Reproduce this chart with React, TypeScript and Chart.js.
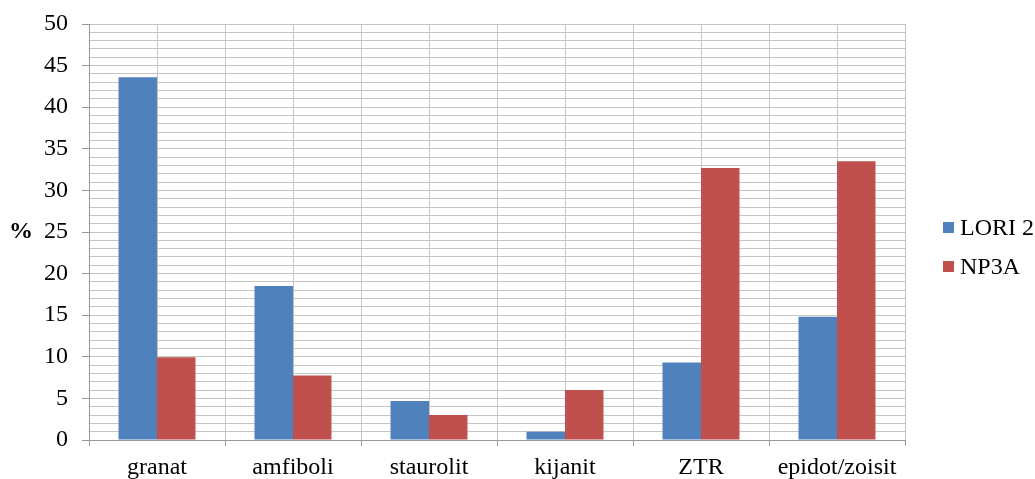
import React, { useEffect, useRef } from "react";
import { Chart, registerables } from "chart.js";

Chart.register(...registerables);

const categories = ["granat", "amfiboli", "staurolit", "kijanit", "ZTR", "epidot/zoisit"];
const lori2 = [43.6, 18.5, 4.7, 1.0, 9.3, 14.8];
const np3a = [9.95, 7.75, 3.0, 6.0, 32.7, 33.5];
const seriesNames = ["LORI 2", "NP3A"];
const seriesColors = ["#4F81BD", "#C0504D"];
const yTitle = "%";
const halfSteps = ["0", "1", "2", "3", "4", "5", "6", "7", "8", "9", "10", "11", "12"];

const FONT = "'Liberation Serif', 'Times New Roman', serif";
const GRID = "#c4c4c4";
const AXIS = "#9a9a9a";

const overlayPlugin = {
  id: "overlay",
  afterDraw(chart: any) {
    const ctx = chart.ctx;
    const area = chart.chartArea;
    ctx.save();
    ctx.fillStyle = "#000";
    ctx.font = `bold 24px ${FONT}`;
    ctx.textAlign = "center";
    ctx.textBaseline = "middle";
    ctx.fillText(yTitle, 21, (area.top + area.bottom) / 2 + 0);
    ctx.font = `24px ${FONT}`;
    ctx.textAlign = "left";
    const lx = area.right + 38;
    const ys = [227.5, 266.5];
    seriesNames.forEach((name, i) => {
      ctx.fillStyle = seriesColors[i];
      ctx.fillRect(lx, ys[i] - 5.5, 11, 11);
      ctx.fillStyle = "#000";
      ctx.fillText(name, lx + 17, ys[i] + 1);
    });
    ctx.restore();
  },
};

export default function App() {
  const ref = useRef<HTMLCanvasElement | null>(null);
  useEffect(() => {
    if (!ref.current) return;
    const chart = new Chart(ref.current, {
      type: "bar",
      data: {
        labels: categories,
        datasets: [
          { label: seriesNames[0], data: lori2, backgroundColor: seriesColors[0], xAxisID: "x" },
          { label: seriesNames[1], data: np3a, backgroundColor: seriesColors[1], xAxisID: "x" },
        ],
      },
      options: {
        animation: false,
        responsive: true,
        maintainAspectRatio: false,
        layout: { padding: { left: 0, top: 24, right: 130, bottom: 0 } },
        datasets: { bar: { barPercentage: 1, categoryPercentage: 0.566 } },
        plugins: { legend: { display: false }, tooltip: { enabled: false } },
        scales: {
          x: {
            type: "category",
            position: "bottom",
            offset: true,
            grid: {
              offset: true,
              drawOnChartArea: false,
              drawTicks: true,
              tickLength: 6,
              tickColor: AXIS,
            },
            border: { display: true, color: AXIS },
            ticks: { color: "#000", font: { family: FONT, size: 24 }, padding: 7, maxRotation: 0, autoSkip: false },
            afterFit: (s: any) => {
              s.height = 39;
              s.paddingLeft = 0;
              s.paddingRight = 0;
            },
          },
          x2: {
            type: "category",
            labels: halfSteps,
            position: "bottom",
            offset: false,
            grid: { offset: false, color: GRID, drawTicks: false, lineWidth: 1 },
            border: { display: false },
            ticks: { display: false, autoSkip: false },
            afterFit: (s: any) => {
              s.height = 0;
              s.paddingLeft = 0;
              s.paddingRight = 0;
            },
          },
          y: {
            min: 0,
            max: 50,
            grid: {
              color: GRID,
              lineWidth: 1,
              tickLength: 7,
              tickColor: (c: any) => (c.tick && c.tick.value % 5 === 0 ? AXIS : "rgba(0,0,0,0)"),
            },
            border: { display: true, color: AXIS },
            ticks: {
              stepSize: 1,
              maxTicksLimit: 100,
              autoSkip: false,
              padding: 14,
              color: "#000",
              font: { family: FONT, size: 24 },
              callback: (v: any) => (Number(v) % 5 === 0 ? String(v) : ""),
            },
            afterFit: (s: any) => {
              s.width = 89;
              s.paddingTop = 0;
              s.paddingBottom = 0;
            },
          },
        },
      },
      plugins: [overlayPlugin],
    } as any);
    return () => chart.destroy();
  }, []);
  return (
    <div style={{ position: "fixed", left: 0, top: 0, width: 1035, height: 479, background: "#fff" }}>
      <canvas ref={ref} />
    </div>
  );
}
